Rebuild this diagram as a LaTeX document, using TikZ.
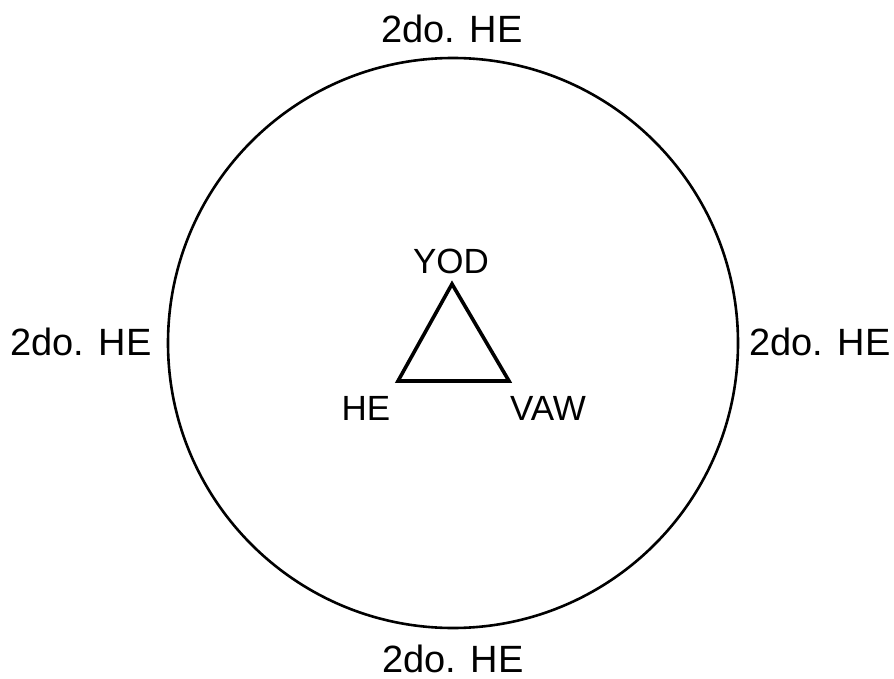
\documentclass[tikz,border=0pt]{standalone}
\usepackage{fontspec}
\setmainfont{Liberation Sans}
\usepackage{tikz}
\usetikzlibrary{positioning}

\begin{document}
\begin{tikzpicture}[
      x=1pt, y=-1pt,
      outer/.style={anchor=base, inner sep=0pt, font=\fontsize{38}{46}\selectfont},
      inner/.style={anchor=base, inner sep=0pt, font=\fontsize{35}{42}\selectfont},
      ring/.style={draw=black, line width=2.6pt},
      tri/.style={draw=black, line width=3.6pt, line join=miter}
    ]
      \useasboundingbox (0,0) rectangle (894,679);
      %% outer circle
      \node[circle, ring, minimum size=570pt, inner sep=0pt] (ring) at (453,343) {};
      \node[outer] (top)    at (452,43)  {2do. HE};
      \node[outer] (bottom) at (453,672) {2do. HE};
      \node[outer] (left)   at (81,355)  {2do. HE};
      \node[outer] (right)  at (820,355) {2do. HE};
      %% triangle
      \coordinate (yod) at (452,284);
      \coordinate (he)  at (398,381);
      \coordinate (vaw) at (509,381);
      \draw[tri] (yod) -- (he) -- (vaw) -- cycle;
      \node[inner] (yodlab) at (451,273) {YOD};
      \node[inner] (helab)  at (366,420) {HE};
      \node[inner] (vawlab) at (548,420) {VAW};
    \end{tikzpicture}
\end{document}
